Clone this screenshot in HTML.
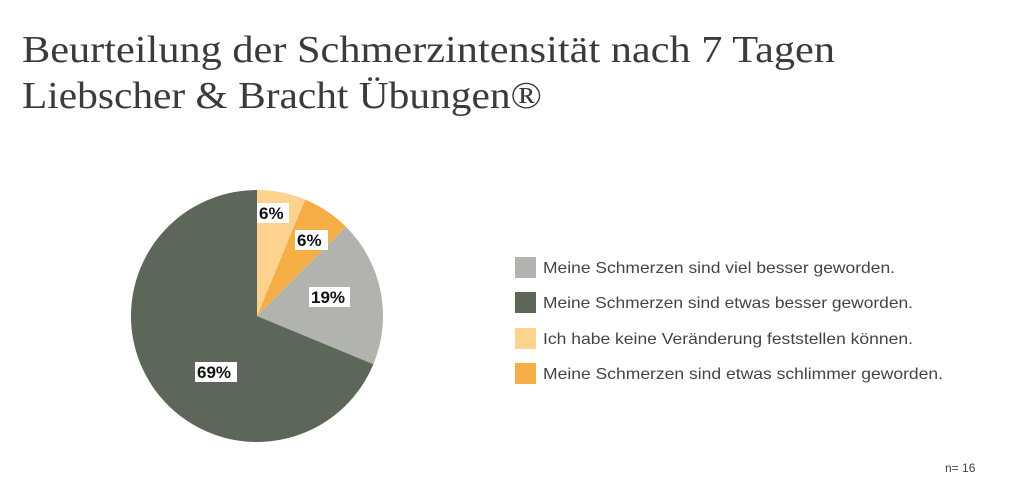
<!DOCTYPE html>
<html><head><meta charset="utf-8"><style>html,body{margin:0;padding:0;background:#fff}svg{display:block}</style></head>
<body>
<svg width="1024" height="503" viewBox="0 0 1024 503" xmlns="http://www.w3.org/2000/svg">
<rect width="1024" height="503" fill="#fff"/>
<g font-family="Liberation Serif, serif" font-size="38" fill="#3b3b3b">
<text x="22" y="62" textLength="813" lengthAdjust="spacingAndGlyphs">Beurteilung der Schmerzintensität nach 7 Tagen</text>
<text x="22" y="108" textLength="520" lengthAdjust="spacingAndGlyphs">Liebscher &amp; Bracht Übungen®</text>
</g>
<g>
<path d="M257,316 L257,190 A126,126 0 0 1 305.2,199.6 Z" fill="#fdd28f"/>
<path d="M257,316 L305.2,199.6 A126,126 0 0 1 346.1,226.9 Z" fill="#f5ad45"/>
<path d="M257,316 L346.1,226.9 A126,126 0 0 1 373.4,364.2 Z" fill="#b1b4ae"/>
<path d="M257,316 L373.4,364.2 A126,126 0 1 1 257,190 Z" fill="#5c6659"/>
</g>
<g font-family="Liberation Sans, sans-serif" font-size="17" font-weight="bold" fill="#111">
<rect x="257" y="203" width="32" height="20" fill="#fff"/><text x="259" y="219">6%</text>
<rect x="295" y="230" width="33" height="20" fill="#fff"/><text x="297" y="246">6%</text>
<rect x="309" y="287" width="41" height="20" fill="#fff"/><text x="311" y="303">19%</text>
<rect x="195" y="362" width="42" height="20" fill="#fff"/><text x="197" y="378">69%</text>
</g>
<g>
<rect x="515" y="257" width="21" height="21" fill="#b1b4ae"/>
<rect x="515" y="292" width="21" height="21" fill="#5c6659"/>
<rect x="515" y="328" width="21" height="21" fill="#fdd28f"/>
<rect x="515" y="363" width="21" height="21" fill="#f5ad45"/>
</g>
<g font-family="Liberation Sans, sans-serif" font-size="16" fill="#444">
<text x="543" y="273" textLength="352" lengthAdjust="spacingAndGlyphs">Meine Schmerzen sind viel besser geworden.</text>
<text x="543" y="308" textLength="370" lengthAdjust="spacingAndGlyphs">Meine Schmerzen sind etwas besser geworden.</text>
<text x="543" y="344" textLength="370" lengthAdjust="spacingAndGlyphs">Ich habe keine Veränderung feststellen können.</text>
<text x="543" y="379" textLength="400" lengthAdjust="spacingAndGlyphs">Meine Schmerzen sind etwas schlimmer geworden.</text>
</g>
<text x="945" y="472" font-family="Liberation Sans, sans-serif" font-size="12" fill="#444">n= 16</text>
</svg>
</body></html>
